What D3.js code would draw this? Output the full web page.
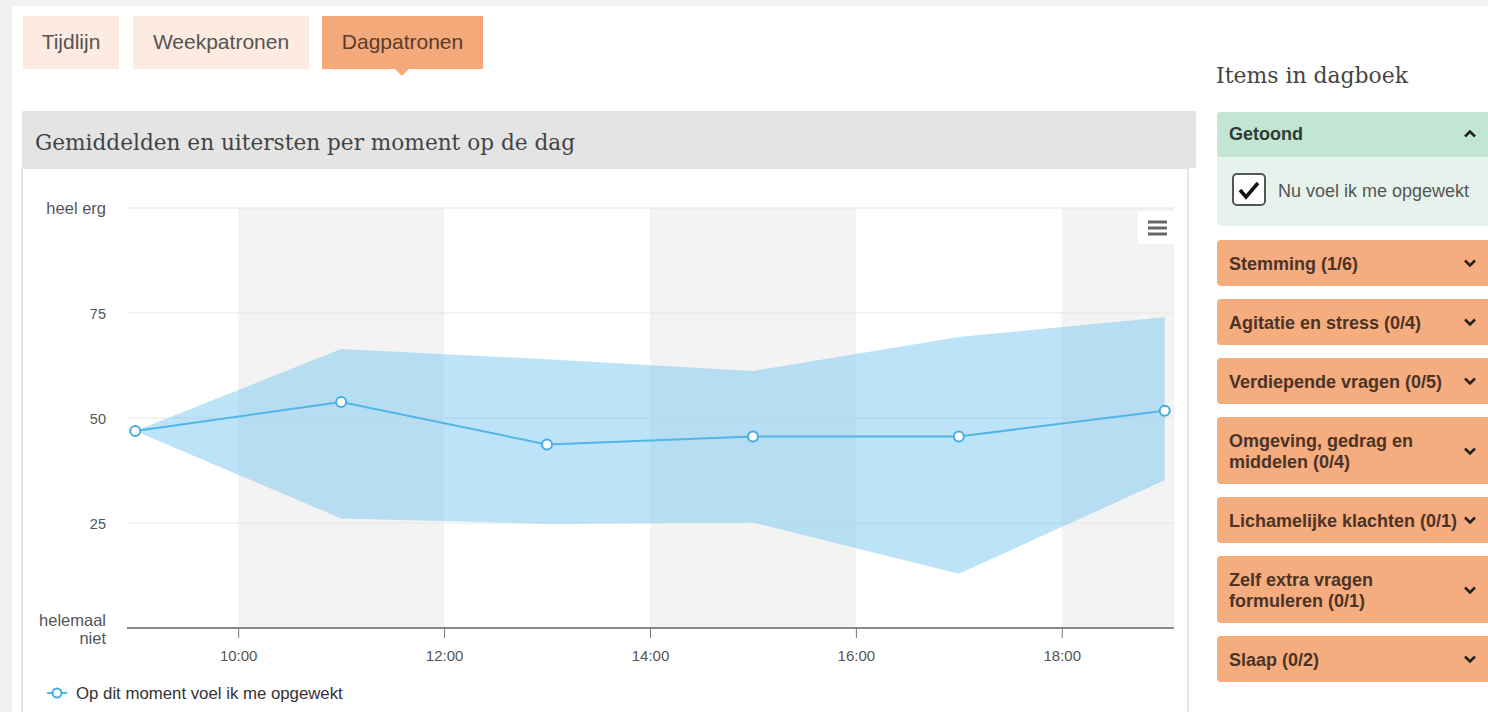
<!DOCTYPE html>
<html>
<head>
<meta charset="utf-8">
<script src="https://cdn.jsdelivr.net/npm/d3@7"></script>
<style>
  body { margin: 0; background: #f1f1f1; }
  svg { display: block; }
  text { font-family: "Liberation Sans", Arial, sans-serif; }
</style>
</head>
<body>
<div id="page"></div>
<script>
// data
var hours = [9, 11, 13, 15, 17, 19];
var meanVals = [46.9, 53.8, 43.7, 45.6, 45.6, 51.7];
var minVals = [46.9, 26.1, 24.8, 25.1, 12.9, 35.2];
var maxVals = [46.9, 66.4, 64.0, 61.2, 69.3, 74.0];

var yTickVals = [0, 25, 50, 75, 100];
var yTickLabels = [["helemaal", "niet"], ["25"], ["50"], ["75"], ["heel erg"]];
var xTickVals = [10, 12, 14, 16, 18];
var bandStarts = [10, 14, 18];

var tabs = ["Tijdlijn", "Weekpatronen", "Dagpatronen"];
var activeTab = "Dagpatronen";
var seriesName = "Op dit moment voel ik me opgewekt";
var chartTitle = "Gemiddelden en uitersten per moment op de dag";
var sideTitle = "Items in dagboek";
var shownItems = ["Nu voel ik me opgewekt"];
var groups = [
    ["Stemming (1/6)"],
    ["Agitatie en stress (0/4)"],
    ["Verdiepende vragen (0/5)"],
    ["Omgeving, gedrag en", "middelen (0/4)"],
    ["Lichamelijke klachten (0/1)"],
    ["Zelf extra vragen", "formuleren (0/1)"],
    ["Slaap (0/2)"]
];

var W = 1488, H = 712;
var svg = d3.select("#page").append("svg")
    .attr("width", W)
    .attr("height", H);

// page background
svg.append("rect").attr("x", 0).attr("y", 0).attr("width", W).attr("height", H).attr("fill", "#f1f1f1");
svg.append("rect").attr("x", 12).attr("y", 6).attr("width", W - 12).attr("height", H - 6).attr("fill", "#ffffff");

// tabs
var tabX = [23, 133, 322], tabW = [96, 176, 161];
var tab = svg.selectAll(".tab")
    .data(tabs)
    .enter().append("g")
    .attr("class", "tab")
    .attr("transform", function (d, i) { return "translate(" + tabX[i] + ",16)"; });
tab.append("rect")
    .attr("width", function (d, i) { return tabW[i]; })
    .attr("height", 53)
    .attr("fill", function (d) { return d == activeTab ? "#f4a97b" : "#fdeae0"; });
tab.append("text")
    .attr("x", function (d, i) { return tabW[i] / 2; })
    .attr("y", 33)
    .attr("text-anchor", "middle")
    .style("font-size", "21px")
    .attr("fill", function (d) { return d == activeTab ? "#5a3b2c" : "#555"; })
    .text(function (d) { return d; });
// little pointer under the active tab
svg.append("path")
    .attr("d", "M395,69 L409,69 L402,76 Z")
    .attr("fill", "#f4a97b");

// chart panel
svg.append("rect").attr("x", 22).attr("y", 168).attr("width", 1166).attr("height", 560)
    .attr("fill", "#fff").attr("stroke", "#e4e4e4").attr("stroke-width", 2);
svg.append("rect").attr("x", 22).attr("y", 111).attr("width", 1174).attr("height", 57).attr("fill", "#e4e4e4");
svg.append("text")
    .attr("x", 35).attr("y", 150)
    .style("font-family", "'DejaVu Serif', serif")
    .style("font-size", "23px")
    .attr("fill", "#444")
    .attr("textLength", 540)
    .attr("lengthAdjust", "spacingAndGlyphs")
    .text(chartTitle);

// scales
var x = d3.scaleLinear().domain([8.92, 19.09]).range([127, 1174]);
var y = d3.scaleLinear().domain([0, 100]).range([628, 208]);

// plot bands
svg.append("g").selectAll("rect")
    .data(bandStarts)
    .enter().append("rect")
    .attr("x", function (d) { return x(d); })
    .attr("y", y(100))
    .attr("width", function (d) { return x(Math.min(d + 2, x.domain()[1])) - x(d); })
    .attr("height", y(0) - y(100))
    .attr("fill", "#f3f3f3");

// grid lines
svg.append("g").selectAll("line")
    .data(yTickVals.filter(function (d) { return d > 0; }))
    .enter().append("line")
    .attr("x1", x.range()[0]).attr("x2", x.range()[1])
    .attr("y1", function (d) { return y(d); })
    .attr("y2", function (d) { return y(d); })
    .attr("stroke", "#e6e6e6");

// y labels (words a bit larger than digits, as in the picture)
var yLab = svg.append("g").selectAll("text")
    .data(yTickVals)
    .enter().append("text")
    .attr("x", 106)
    .attr("text-anchor", "end")
    .style("font-size", function (d, i) { return isNaN(+yTickLabels[i][0]) ? "16.5px" : "14.5px"; })
    .attr("fill", "#555")
    .attr("y", function (d, i) { return yTickLabels[i].length > 1 ? y(d) - 2 : y(d) + 6; });
yLab.selectAll("tspan")
    .data(function (d, i) { return yTickLabels[i]; })
    .enter().append("tspan")
    .attr("x", 106)
    .attr("dy", function (d, i) { return i == 0 ? 0 : 18; })
    .text(function (d) { return d; });

// range area
var rows = hours.map(function (h, i) { return { h: h, mean: meanVals[i], lo: minVals[i], hi: maxVals[i] }; });
var area = d3.area()
    .x(function (d) { return x(d.h); })
    .y0(function (d) { return y(d.lo); })
    .y1(function (d) { return y(d.hi); });
svg.append("path")
    .datum(rows)
    .attr("d", area)
    .attr("fill", "#7cc8f2")
    .attr("fill-opacity", 0.5);

// x axis
var xAxis = svg.append("g")
    .attr("transform", "translate(0," + y(0) + ")")
    .call(d3.axisBottom(x).tickValues(xTickVals).tickSize(10).tickPadding(12)
        .tickFormat(function (d) { return d + ":00"; }));
xAxis.select(".domain").attr("stroke", "#888").attr("stroke-width", 2)
    .attr("d", "M" + x.range()[0] + ",0H" + x.range()[1]);
xAxis.selectAll(".tick line").attr("stroke", "#777");
xAxis.selectAll(".tick text")
    .style("font-family", "'Liberation Sans', Arial, sans-serif")
    .style("font-size", "15px")
    .attr("fill", "#555");

// mean line and markers
var line = d3.line()
    .x(function (d) { return x(d.h); })
    .y(function (d) { return y(d.mean); });
svg.append("path")
    .datum(rows)
    .attr("d", line)
    .attr("fill", "none")
    .attr("stroke", "#52b5e8")
    .attr("stroke-width", 2);
svg.append("g").selectAll("circle")
    .data(rows)
    .enter().append("circle")
    .attr("cx", function (d) { return x(d.h); })
    .attr("cy", function (d) { return y(d.mean); })
    .attr("r", 5)
    .attr("fill", "#fff")
    .attr("stroke", "#45ade2")
    .attr("stroke-width", 2);

// export menu button
svg.append("rect").attr("x", 1138).attr("y", 211).attr("width", 37).attr("height", 33).attr("fill", "#fff");
svg.append("g").selectAll("line")
    .data([222, 228, 234])
    .enter().append("line")
    .attr("x1", 1148).attr("x2", 1167)
    .attr("y1", function (d) { return d; }).attr("y2", function (d) { return d; })
    .attr("stroke", "#666").attr("stroke-width", 3);

// legend
svg.append("line").attr("x1", 47).attr("x2", 67).attr("y1", 693).attr("y2", 693)
    .attr("stroke", "#52b5e8").attr("stroke-width", 2);
svg.append("circle").attr("cx", 57).attr("cy", 693).attr("r", 4.5)
    .attr("fill", "#fff").attr("stroke", "#45ade2").attr("stroke-width", 2);
svg.append("text").attr("x", 76).attr("y", 699)
    .style("font-size", "16.8px").attr("fill", "#333")
    .text(seriesName);

// side panel
svg.append("text")
    .attr("x", 1216).attr("y", 83)
    .style("font-family", "'DejaVu Serif', serif")
    .style("font-size", "23px")
    .attr("fill", "#444")
    .attr("textLength", 192)
    .attr("lengthAdjust", "spacingAndGlyphs")
    .text(sideTitle);

function chevron(g, cx, cy, up) {
    var s = up ? -1 : 1;
    g.append("path")
        .attr("d", "M" + (cx - 5) + "," + (cy - 2.5 * s) + " L" + cx + "," + (cy + 2.5 * s) + " L" + (cx + 5) + "," + (cy - 2.5 * s))
        .attr("fill", "none")
        .attr("stroke", "#222")
        .attr("stroke-width", 2.5);
}

var side = svg.append("g");
side.append("rect").attr("x", 1217).attr("y", 112).attr("width", 280).attr("height", 114).attr("rx", 4).attr("fill", "#e6f3ec");
side.append("rect").attr("x", 1217).attr("y", 112).attr("width", 280).attr("height", 45).attr("rx", 4).attr("fill", "#c3e5d3");
side.append("text").attr("x", 1229).attr("y", 140)
    .style("font-size", "18px").style("font-weight", "bold").attr("fill", "#2f3d36")
    .text("Getoond");
chevron(side, 1470, 134, true);
side.append("rect").attr("x", 1233).attr("y", 174).attr("width", 32).attr("height", 31).attr("rx", 4)
    .attr("fill", "#fff").attr("stroke", "#555").attr("stroke-width", 2);
side.append("path").attr("d", "M1240,190 L1246,197 L1258,183")
    .attr("fill", "none").attr("stroke", "#111").attr("stroke-width", 3.5);
side.append("text").attr("x", 1278).attr("y", 197)
    .style("font-size", "18px").attr("fill", "#555")
    .text(shownItems[0]);

// orange group headers
var groupTop = [];
var yy = 240;
groups.forEach(function (g) {
    groupTop.push(yy);
    yy += (g.length > 1 ? 67 : 46) + 13;
});
var grp = side.selectAll(".grp")
    .data(groups)
    .enter().append("g")
    .attr("class", "grp")
    .attr("transform", function (d, i) { return "translate(1217," + groupTop[i] + ")"; });
grp.append("rect")
    .attr("width", 280)
    .attr("height", function (d) { return d.length > 1 ? 67 : 46; })
    .attr("rx", 4)
    .attr("fill", "#f5ac7e");
grp.append("text")
    .attr("y", 30)
    .style("font-size", "18px")
    .style("font-weight", "bold")
    .attr("fill", "#4b3427")
    .selectAll("tspan")
    .data(function (d) { return d; })
    .enter().append("tspan")
    .attr("x", 12)
    .attr("dy", function (d, i) { return i == 0 ? 0 : 21; })
    .text(function (d) { return d; });
grp.each(function (d) {
    chevron(d3.select(this), 253, d.length > 1 ? 34 : 23, false);
});
</script>
</body>
</html>
